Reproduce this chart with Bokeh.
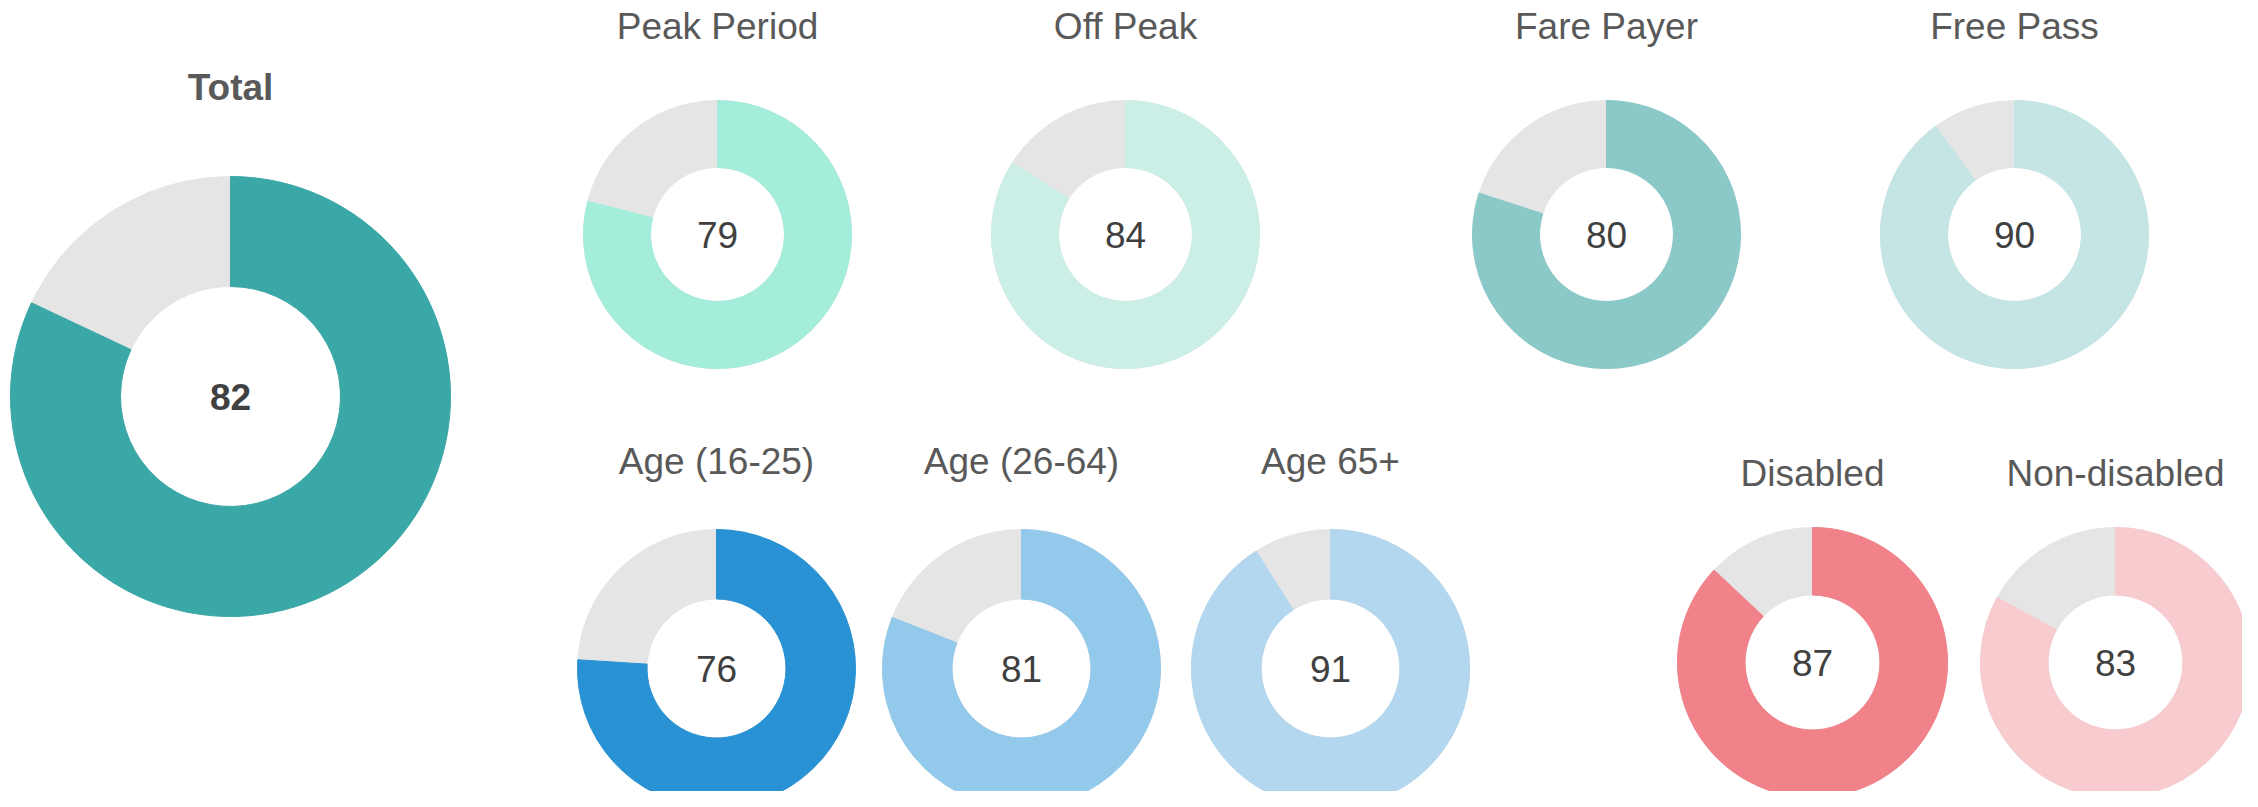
from math import pi
from bokeh.plotting import figure
from bokeh.models import ColumnDataSource, Range1d
from bokeh.core.properties import value
from bokeh.embed import file_html
from bokeh.resources import INLINE

# ---- data ----
labels = ["Total", "Peak Period", "Off Peak", "Fare Payer", "Free Pass",
          "Age (16-25)", "Age (26-64)", "Age 65+", "Disabled", "Non-disabled"]
scores = [82, 79, 84, 80, 90, 76, 81, 91, 87, 83]
colors = ["#3aa8a7", "#a4edda", "#cbeee6", "#8bc9c9", "#c5e5e5",
          "#2892d4", "#93c9eb", "#b2d7ee", "#f1828a", "#f8cbcf"]
rest_color = "#e5e5e5"

# ---- layout (pixel positions in the picture, top-left origin) ----
W, H = 2242, 791
cx_px = [230, 717, 1125, 1606, 2014, 716, 1021, 1330, 1812, 2115]
cy_px = [396, 234, 234, 234, 234, 668, 668, 668, 662, 662]
r_px = [220, 134, 134, 134, 134, 139, 139, 139, 135, 135]
title_px = [87, 26, 26, 26, 26, 461, 461, 461, 473, 473]

def tx(X):
    return X

def ty(Y):
    return H - Y

xs = [tx(v) for v in cx_px]
ys = [ty(v) for v in cy_px]
outer = r_px
inner = [r * 0.5 for r in r_px]
frac = [s / 100.0 for s in scores]
top = pi / 2
val_start = [top - f * 2 * pi for f in frac]
val_end = [top for _ in frac]

src = ColumnDataSource(dict(
    x=xs, y=ys, inner=inner, outer=outer,
    vs=val_start, ve=val_end,
    color=colors, label=labels, score=[str(s) for s in scores],
    ty=[ty(v) for v in title_px],
    weight=["bold"] + ["normal"] * (len(labels) - 1),
))

p = figure(width=W, height=H, x_range=Range1d(0, W), y_range=Range1d(0, H),
           output_backend="svg", toolbar_location=None, min_border=0)
p.axis.visible = False
p.grid.visible = False
p.outline_line_color = None
p.background_fill_color = "white"
p.border_fill_color = "white"

# grey remainder ring
p.annular_wedge(x="x", y="y", inner_radius="inner", outer_radius="outer",
                start_angle=0, end_angle=2 * pi, color=rest_color, source=src)
# score segment (clockwise from 12 o'clock)
p.annular_wedge(x="x", y="y", inner_radius="inner", outer_radius="outer",
                start_angle="vs", end_angle="ve", color="color", source=src)

# center numbers
p.text(x="x", y="y", text="score", text_align="center", text_baseline="middle",
       text_font=value("Liberation Sans"), text_font_size="37px",
       text_font_style="weight", text_color="#404040", source=src)

# titles
p.text(x="x", y="ty", text="label", text_align="center", text_baseline="middle",
       text_font=value("Liberation Sans"), text_font_size="37px",
       text_font_style="weight", text_color="#595959", source=src)

open("out.html", "w").write(file_html(p, INLINE))
